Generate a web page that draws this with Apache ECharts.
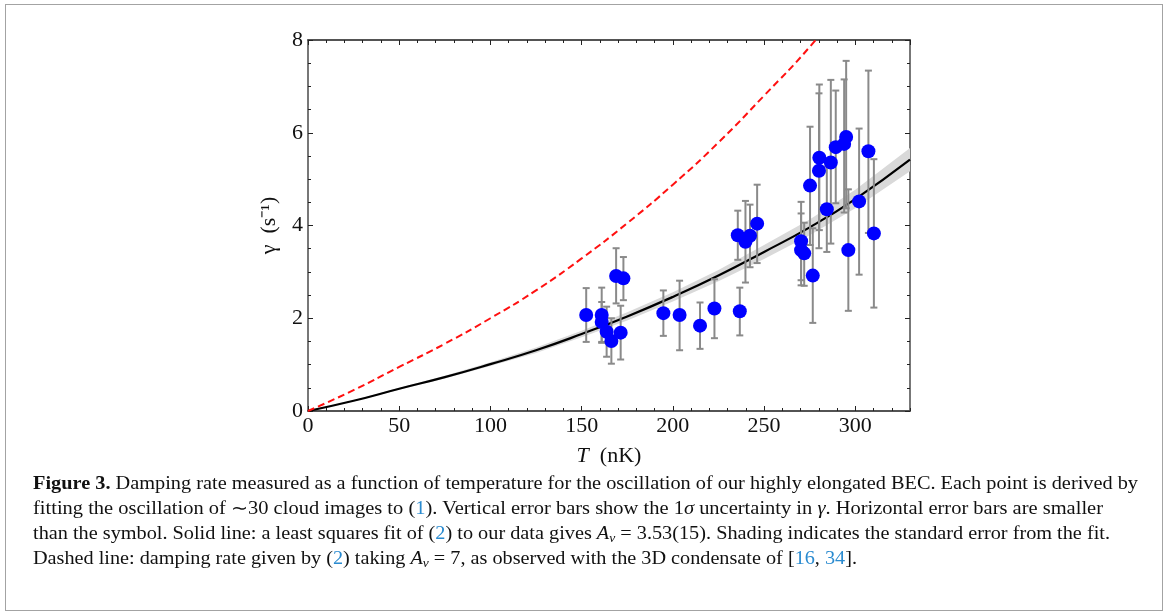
<!DOCTYPE html>
<html>
<head>
<meta charset="utf-8">
<script src="https://cdn.jsdelivr.net/npm/echarts@6/dist/echarts.min.js"></script>
<style>
  html, body { margin:0; padding:0; background:#fff; }
  #wrap { position:relative; width:1168px; height:615px; overflow:hidden; background:#fff; }
  #chart { position:absolute; left:0; top:0; width:1168px; height:615px; }
  #frame { position:absolute; left:5px; top:4px; width:1156px; height:605px; border:1.5px solid #a3a3a3; pointer-events:none; }
  .cap { position:absolute; left:33px; white-space:nowrap; font-family:'Liberation Serif','Times New Roman',serif; font-size:18px; line-height:24px; color:#111; transform-origin:0 50%; }
  .cap .r { color:#2a8bd0; }
  .cap sub { font-size:12px; vertical-align:-3px; line-height:0; }
</style>
</head>
<body>
<div id="wrap">
  <div id="chart"></div>
  <div id="frame"></div>
  <div class="cap" id="l1" data-w="1105" style="top:471px"><b>Figure 3.</b> Damping rate measured as a function of temperature for the oscillation of our highly elongated BEC. Each point is derived by</div>
  <div class="cap" id="l2" data-w="1070" style="top:496px">fitting the oscillation of ∼30 cloud images to (<span class="r">1</span>). Vertical error bars show the 1<i>σ</i> uncertainty in <i>γ</i>. Horizontal error bars are smaller</div>
  <div class="cap" id="l3" data-w="1077" style="top:521px">than the symbol. Solid line: a least squares fit of (<span class="r">2</span>) to our data gives <i>A</i><sub><i>ν</i></sub> = 3.53(15). Shading indicates the standard error from the fit.</div>
  <div class="cap" id="l4" data-w="824" style="top:546px">Dashed line: damping rate given by (<span class="r">2</span>) taking <i>A</i><sub><i>ν</i></sub> = 7, as observed with the 3D condensate of [<span class="r">16</span>, <span class="r">34</span>].</div>
</div>
<script>
// ---- data ----
const temps   = [152.5,161.0,161.0,163.7,166.3,168.9,171.4,172.9,194.8,203.7,214.9,222.8,236.7,235.6,239.8,242.3,246.2,270.3,270.3,272.0,276.7,275.2,280.1,280.3,284.4,286.6,289.3,293.9,295.0,296.2,302.1,307.2,310.2];
const gammas  = [2.07,2.07,1.92,1.71,1.51,2.91,1.69,2.86,2.11,2.07,1.84,2.21,2.15,3.79,3.65,3.78,4.04,3.66,3.47,3.40,2.92,4.86,5.18,5.46,4.35,5.36,5.69,5.76,5.91,3.47,4.52,5.60,3.83];
const errLow  = [1.49,1.47,1.49,1.17,1.02,2.32,1.11,2.39,1.62,1.31,1.34,1.57,1.63,3.26,2.77,3.10,3.19,2.82,2.71,2.70,1.90,3.58,3.51,3.90,3.43,3.61,4.48,4.28,4.37,2.16,2.94,3.84,2.23];
const errHigh = [2.65,2.66,2.35,2.25,2.00,3.51,2.27,3.32,2.60,2.81,2.34,2.84,2.66,4.32,4.53,4.45,4.88,4.51,4.26,4.06,3.94,6.13,6.85,7.04,5.27,7.14,6.91,7.15,7.55,4.78,6.09,7.34,5.43];

const fitT      = [0,25,50,75,100,125,150,175,200,225,250,275,300,330];
const fitGamma  = [0,0.22,0.48,0.73,1.01,1.31,1.66,2.04,2.46,2.92,3.43,3.96,4.57,5.42];
const bandHigh  = [0,0.23,0.50,0.76,1.05,1.37,1.73,2.13,2.56,3.04,3.58,4.13,4.77,5.67];
const bandLow   = [0,0.21,0.46,0.70,0.97,1.25,1.59,1.95,2.36,2.80,3.28,3.79,4.37,5.17];

const dashT     = [0,25,50,75,100,125,150,175,200,225,250,275,300];
const dashGamma = [0,0.45,0.95,1.45,2.00,2.60,3.29,4.05,4.88,5.79,6.80,7.85,9.06];

const xTickLabels = ['0','50','100','150','200','250','300'];
const yTickLabels = ['0','2','4','6','8'];

// ---- chart ----
const serif = "'Liberation Serif','Times New Roman',serif";
const axisCol = '#4a4a4a';
const chart = echarts.init(document.getElementById('chart'), null, {renderer:'canvas'});

function xAxisDef(pos, interval, tickLen, showLabel, withName) {
  const a = {
    type:'value', position:pos, min:0, max:330, interval:interval,
    axisLine:{show:true, onZero:false, lineStyle:{color:axisCol, width:1.5}},
    axisTick:{show:true, inside:true, length:tickLen, lineStyle:{color:'#222', width:1}},
    splitLine:{show:false},
    axisLabel:{show:showLabel, showMaxLabel:false, fontFamily:serif, fontSize:22, color:'#111', margin:4,
      formatter: v => { const s = String(v); return xTickLabels.indexOf(s) >= 0 ? s : ''; }}
  };
  if (withName) {
    a.name = '{i|T}  (nK)';
    a.nameLocation = 'middle';
    a.nameGap = 34;
    a.nameTextStyle = {fontFamily:serif, fontSize:22, color:'#111', rich:{i:{fontFamily:serif, fontSize:22, fontStyle:'italic', color:'#111'}}};
  }
  return a;
}
function yAxisDef(pos, showLabel, withName) {
  const a = {
    type:'value', position:pos, min:0, max:8, interval:2,
    axisLine:{show:true, onZero:false, lineStyle:{color:axisCol, width:1.5}},
    axisTick:{show:true, inside:true, length:5, lineStyle:{color:'#222', width:1}},
    minorTick:{show:true, splitNumber:4, length:3, lineStyle:{color:'#222', width:1}},
    splitLine:{show:false}, minorSplitLine:{show:false},
    axisLabel:{show:showLabel, fontFamily:serif, fontSize:22, color:'#111', margin:5,
      formatter: v => { const s = String(v); return yTickLabels.indexOf(s) >= 0 ? s : ''; }}
  };
  if (withName) {
    a.name = 'γ  (s⁻¹)';
    a.nameLocation = 'middle';
    a.nameGap = 28;
    a.nameRotate = 90;
    a.nameTextStyle = {fontFamily:serif, fontSize:22, color:'#111'};
  }
  return a;
}

const scatterData = temps.map((t,i) => [t, gammas[i]]);
const errData = temps.map((t,i) => [t, errLow[i], errHigh[i]]);
const fitData = fitT.map((t,i) => [t, fitGamma[i]]);
const bandData = fitT.map((t,i) => [t, bandLow[i], bandHigh[i]]);
const dashData = dashT.map((t,i) => [t, dashGamma[i]]);

chart.setOption({
  animation:false,
  backgroundColor:'transparent',
  grid:{left:308, right:258, top:40, bottom:204, containLabel:false},
  xAxis:[
    xAxisDef('bottom', 50, 5, true, true),
    xAxisDef('bottom', 10, 3, false, false),
    xAxisDef('top', 50, 5, false, false),
    xAxisDef('top', 10, 3, false, false)
  ],
  yAxis:[
    yAxisDef('left', true, true),
    yAxisDef('right', false, false)
  ],
  series:[
    {type:'custom', name:'band', data:bandData, z:1, silent:true, clip:true,
      renderItem:function(params, api){
        if (params.dataIndex !== 0) return null;
        const n = bandData.length;
        const pts = [];
        for (let i = 0; i < n; i++) pts.push(api.coord([bandData[i][0], bandData[i][2]]));
        for (let i = n - 1; i >= 0; i--) pts.push(api.coord([bandData[i][0], bandData[i][1]]));
        return {type:'polygon', shape:{points:pts}, style:{fill:'#d9d9d9', stroke:null}};
      }},
    {type:'line', name:'fit', data:fitData, smooth:true, symbol:'none',
      lineStyle:{color:'#000', width:2.2}, z:3},
    {type:'line', name:'A=7', data:dashData, smooth:true, symbol:'none', clip:true,
      lineStyle:{color:'#ff1010', width:2, type:[7,4]}, z:3},
    {type:'custom', name:'err', data:errData, z:4, clip:false,
      renderItem:function(params, api){
        const x = api.value(0);
        const lo = api.coord([x, api.value(1)]);
        const hi = api.coord([x, api.value(2)]);
        const c = 3.5;
        const st = {stroke:'#8a8a8a', lineWidth:2};
        return {type:'group', children:[
          {type:'line', shape:{x1:lo[0], y1:lo[1], x2:hi[0], y2:hi[1]}, style:st},
          {type:'line', shape:{x1:lo[0]-c, y1:lo[1], x2:lo[0]+c, y2:lo[1]}, style:st},
          {type:'line', shape:{x1:hi[0]-c, y1:hi[1], x2:hi[0]+c, y2:hi[1]}, style:st}
        ]};
      }},
    {type:'scatter', name:'data', data:scatterData, symbol:'circle', symbolSize:14,
      itemStyle:{color:'#0000ff', opacity:1}, z:5}
  ]
});

// fit caption lines to their measured widths in the figure
document.querySelectorAll('.cap').forEach(el => {
  const w = el.getBoundingClientRect().width;
  const target = parseFloat(el.dataset.w);
  el.style.transform = 'scaleX(' + (target / w) + ')';
});
</script>
</body>
</html>
